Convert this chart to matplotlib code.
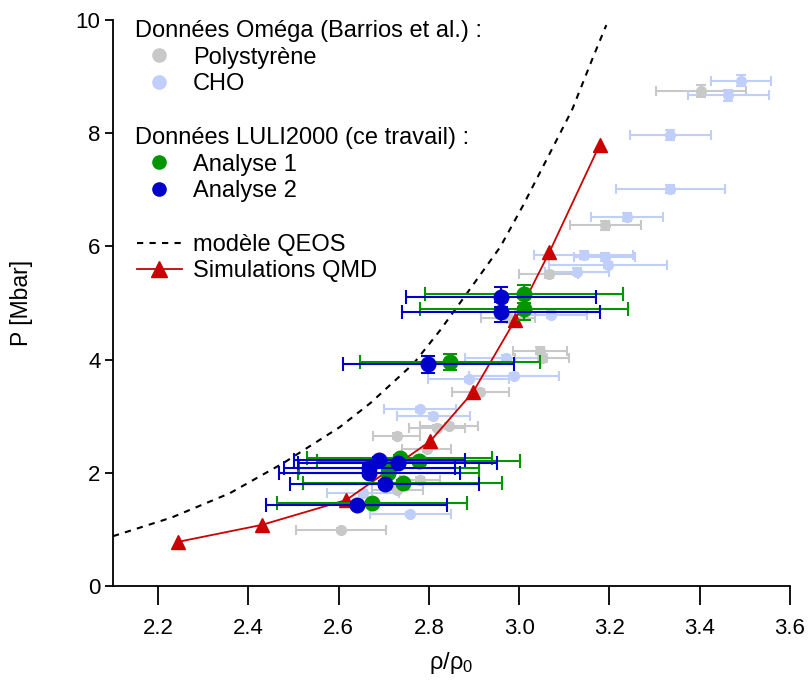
import numpy as np
import matplotlib.pyplot as plt
from matplotlib.lines import Line2D

plt.rcParams['font.family'] = ['Liberation Sans', 'DejaVu Sans']
plt.rcParams['mathtext.fontset'] = 'custom'
plt.rcParams['mathtext.rm'] = 'Liberation Sans'
plt.rcParams['mathtext.it'] = 'Liberation Sans'

# Omega data (Barrios et al.) - polystyrene
ps_x = [3.402, 3.191, 3.065, 2.976, 3.047, 3.050, 2.914, 2.818, 2.844, 2.729, 2.795, 2.780, 2.730, 2.605]
ps_p = [8.75, 6.37, 5.51, 4.73, 4.16, 4.02, 3.43, 2.80, 2.83, 2.65, 2.42, 1.87, 1.70, 0.99]
ps_xerr = [0.10, 0.078, 0.066, 0.06, 0.06, 0.06, 0.063, 0.063, 0.064, 0.052, 0.055, 0.045, 0.057, 0.10]
ps_perr = [0.11, 0.08, 0.06, 0.06, 0.06, 0.06, 0.05, 0.05, 0.05, 0.05, 0.05, 0.05, 0.05, 0.04]

# Omega data - CHO
cho_x = [3.492, 3.463, 3.335, 3.335, 3.239, 3.143, 3.189, 3.197, 3.128, 3.071, 2.971, 2.888, 2.988, 2.781, 2.810, 2.654, 2.759]
cho_p = [8.93, 8.67, 7.97, 7.01, 6.52, 5.85, 5.81, 5.67, 5.55, 4.79, 4.03, 3.65, 3.71, 3.12, 3.00, 1.64, 1.27]
cho_xerr = [0.066, 0.09, 0.09, 0.12, 0.08, 0.11, 0.068, 0.13, 0.07, 0.08, 0.09, 0.09, 0.10, 0.08, 0.08, 0.08, 0.09]
cho_perr = [0.09, 0.10, 0.09, 0.07, 0.07, 0.07, 0.07, 0.06, 0.06, 0.06, 0.06, 0.05, 0.05, 0.05, 0.05, 0.05, 0.04]

# LULI2000 data - analyse 1
a1_x = [3.011, 3.011, 2.847, 2.777, 2.735, 2.712, 2.710, 2.742, 2.674]
a1_p = [5.16, 4.89, 3.96, 2.21, 2.26, 2.09, 2.00, 1.82, 1.46]
a1_xerr = [0.22, 0.23, 0.20, 0.225, 0.205, 0.20, 0.20, 0.22, 0.21]
a1_perr = [0.16, 0.19, 0.14, 0.05, 0.05, 0.05, 0.05, 0.05, 0.05]

# LULI2000 data - analyse 2
a2_x = [2.960, 2.960, 2.799, 2.731, 2.690, 2.668, 2.668, 2.702, 2.640]
a2_p = [5.11, 4.84, 3.92, 2.18, 2.23, 2.08, 1.99, 1.80, 1.43]
a2_xerr = [0.21, 0.22, 0.19, 0.22, 0.19, 0.19, 0.20, 0.21, 0.20]
a2_perr = [0.18, 0.17, 0.15, 0.05, 0.05, 0.05, 0.05, 0.05, 0.05]

# QEOS model
qeos_x = [2.100, 2.230, 2.359, 2.477, 2.603, 2.670, 2.766, 2.825, 2.885, 2.958, 3.009, 3.117, 3.164, 3.193]
qeos_p = [0.88, 1.21, 1.64, 2.17, 2.81, 3.23, 3.93, 4.52, 5.18, 5.99, 6.73, 8.41, 9.35, 9.91]

# QMD simulations
qmd_x = [2.244, 2.430, 2.617, 2.803, 2.898, 2.991, 3.067, 3.178]
qmd_p = [0.78, 1.08, 1.52, 2.56, 3.43, 4.70, 5.90, 7.79]

c_ps = '#c8c8c8'
c_cho = '#c0cffa'
c_a1 = '#009600'
c_a2 = '#0000cc'
c_qmd = '#cc0000'

fig = plt.figure(figsize=(8.09, 6.87), dpi=100)
ax = fig.add_axes([113/809, 1-586/687, (790-113)/809, (586-20)/687])

ax.errorbar(ps_x, ps_p, xerr=ps_xerr, yerr=ps_perr, fmt='o', ms=7, color=c_ps,
            elinewidth=1.5, capsize=3.5, capthick=1.5, zorder=2)
ax.errorbar(cho_x, cho_p, xerr=cho_xerr, yerr=cho_perr, fmt='o', ms=7, color=c_cho,
            elinewidth=1.5, capsize=3.5, capthick=1.5, zorder=2)

ax.plot(qeos_x, qeos_p, color='black', ls=(0, (3, 3)), lw=1.5, zorder=3)
ax.plot(qmd_x, qmd_p, color=c_qmd, lw=1.3, marker='^', ms=10.5, zorder=4)

ax.errorbar(a1_x, a1_p, xerr=a1_xerr, yerr=a1_perr, fmt='o', ms=10.5, color=c_a1,
            elinewidth=1.5, capsize=5, capthick=1.5, zorder=5)
ax.errorbar(a2_x, a2_p, xerr=a2_xerr, yerr=a2_perr, fmt='o', ms=10.5, color=c_a2,
            elinewidth=1.5, capsize=5, capthick=1.5, zorder=6)

ax.set_xlim(2.1, 3.6)
ax.set_ylim(0, 10)
ax.set_xticks(np.arange(2.2, 3.61, 0.2))
ax.set_xticklabels(['2.2', '2.4', '2.6', '2.8', '3.0', '3.2', '3.4', '3.6'])
ax.set_yticks([0, 2, 4, 6, 8, 10])
ax.spines['top'].set_visible(False)
ax.spines['right'].set_visible(False)
ax.spines['left'].set_linewidth(1.3)
ax.spines['bottom'].set_linewidth(1.3)
ax.tick_params(direction='out', width=1.3, labelsize=16)
ax.tick_params(axis='x', length=14, pad=9)
ax.tick_params(axis='y', length=6, pad=3)

ax.set_xlabel(r'$\mathrm{\rho/\rho_0}$', fontsize=17, va='center')
ax.set_ylabel('P [Mbar]', fontsize=16.5, va='center')
ax.xaxis.set_label_coords(0.5, (586-663)/566)
ax.yaxis.set_label_coords((22-113)/677, 0.5)

blank = Line2D([], [], ls='none')
handles = [blank,
           Line2D([], [], ls='none', marker='o', ms=9.5, color=c_ps),
           Line2D([], [], ls='none', marker='o', ms=9.5, color=c_cho),
           blank,
           blank,
           Line2D([], [], ls='none', marker='o', ms=9.5, color=c_a1),
           Line2D([], [], ls='none', marker='o', ms=9.5, color=c_a2),
           blank,
           Line2D([], [], color='black', ls=(0, (3, 3)), lw=1.5),
           Line2D([], [], color=c_qmd, lw=1.3, marker='^', ms=11)]
labels = ['Données Oméga (Barrios et al.) :', 'Polystyrène', 'CHO', ' ',
          'Données LULI2000 (ce travail) :', 'Analyse 1', 'Analyse 2', ' ',
          'modèle QEOS', 'Simulations QMD']
leg = ax.legend(handles, labels, loc='upper left', bbox_to_anchor=(0.035, 1.0),
                frameon=False, fontsize=17, handlelength=1.9, handletextpad=0.47,
                labelspacing=0.2, borderaxespad=0, borderpad=0)
# pull the two headings back to the left edge
for i in (0, 4):
    leg.get_texts()[i].set_x(-58)

fig.savefig('out.png', dpi=100)
